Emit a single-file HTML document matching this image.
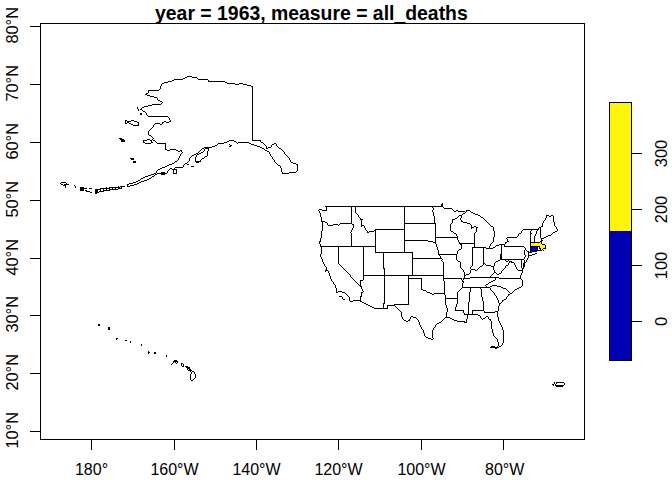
<!DOCTYPE html>
<html><head><meta charset="utf-8">
<style>
html,body{margin:0;padding:0;background:#fff;width:672px;height:480px;overflow:hidden}
svg{display:block}
text{font-family:"Liberation Sans",Arial,sans-serif;fill:#000}
.ax{font-size:16px}
.tt{font-size:19.8px;font-weight:bold}
.rl{font-size:16.4px}
</style></head><body>
<svg width="672" height="480" viewBox="0 0 672 480">
<rect x="0" y="0" width="672" height="480" fill="#fff"/>
<text class="tt" transform="translate(311.4 19.7) scale(0.98 1)" text-anchor="middle">year = 1963, measure = all_deaths</text>
<g shape-rendering="crispEdges"><path fill="#FFF50A" d="M540 242h1v1h-1zM531 243h10v1h-10zM531 244h11v1h-11zM531 245h14v1h-14zM540 246h5v1h-5zM540 247h5v1h-5zM541 248h2v1h-2zM541 249h1v1h-1z"/><path fill="#0000B3" d="M531 247h6v1h-6zM531 248h6v1h-6zM531 249h6v1h-6zM531 250h6v1h-6zM531 251h1v1h-1z"/><path fill="#000" d="M187 76h5v1h-5zM185 77h2v1h-2zM192 77h5v1h-5zM183 78h2v1h-2zM197 78h1v1h-1zM174 79h9v1h-9zM198 79h10v1h-10zM172 80h2v1h-2zM208 80h1v1h-1zM168 81h4v1h-4zM208 81h17v1h-17zM164 82h4v1h-4zM225 82h2v1h-2zM162 83h2v1h-2zM227 83h8v1h-8zM239 83h4v1h-4zM161 84h1v1h-1zM235 84h4v1h-4zM243 84h4v1h-4zM161 85h1v1h-1zM247 85h4v1h-4zM160 86h1v1h-1zM251 86h2v1h-2zM160 87h1v1h-1zM252 87h1v1h-1zM160 88h1v1h-1zM252 88h1v1h-1zM159 89h1v1h-1zM252 89h1v1h-1zM148 90h11v1h-11zM252 90h1v1h-1zM148 91h1v1h-1zM252 91h1v1h-1zM148 92h1v1h-1zM252 92h1v1h-1zM146 93h2v1h-2zM252 93h1v1h-1zM145 94h2v1h-2zM252 94h1v1h-1zM147 95h3v1h-3zM252 95h1v1h-1zM150 96h4v1h-4zM252 96h1v1h-1zM154 97h3v1h-3zM252 97h1v1h-1zM157 98h1v1h-1zM252 98h1v1h-1zM157 99h1v1h-1zM252 99h1v1h-1zM158 100h2v1h-2zM252 100h1v1h-1zM160 101h2v1h-2zM252 101h1v1h-1zM162 102h1v1h-1zM252 102h1v1h-1zM161 103h1v1h-1zM252 103h1v1h-1zM152 104h9v1h-9zM252 104h1v1h-1zM148 105h4v1h-4zM252 105h1v1h-1zM144 106h4v1h-4zM252 106h1v1h-1zM137 107h1v1h-1zM142 107h2v1h-2zM252 107h1v1h-1zM137 108h1v1h-1zM141 108h1v1h-1zM252 108h1v1h-1zM138 109h1v1h-1zM140 109h2v1h-2zM252 109h1v1h-1zM138 110h1v1h-1zM142 110h1v1h-1zM252 110h1v1h-1zM143 111h2v1h-2zM252 111h1v1h-1zM145 112h1v1h-1zM252 112h1v1h-1zM140 113h2v1h-2zM146 113h1v1h-1zM252 113h1v1h-1zM140 114h2v1h-2zM146 114h1v1h-1zM252 114h1v1h-1zM147 115h1v1h-1zM252 115h1v1h-1zM148 116h20v1h-20zM252 116h1v1h-1zM168 117h1v1h-1zM252 117h1v1h-1zM169 118h1v1h-1zM252 118h1v1h-1zM169 119h1v1h-1zM252 119h1v1h-1zM125 120h2v1h-2zM131 120h3v1h-3zM170 120h1v1h-1zM252 120h1v1h-1zM125 121h1v1h-1zM127 121h4v1h-4zM134 121h3v1h-3zM164 121h2v1h-2zM169 121h2v1h-2zM252 121h1v1h-1zM125 122h1v1h-1zM127 122h2v1h-2zM137 122h2v1h-2zM162 122h2v1h-2zM166 122h3v1h-3zM252 122h1v1h-1zM125 123h2v1h-2zM129 123h2v1h-2zM138 123h1v1h-1zM155 123h5v1h-5zM162 123h1v1h-1zM252 123h1v1h-1zM131 124h2v1h-2zM138 124h1v1h-1zM154 124h1v1h-1zM160 124h2v1h-2zM252 124h1v1h-1zM133 125h6v1h-6zM153 125h1v1h-1zM252 125h1v1h-1zM153 126h1v1h-1zM252 126h1v1h-1zM152 127h1v1h-1zM252 127h1v1h-1zM151 128h1v1h-1zM252 128h1v1h-1zM150 129h1v1h-1zM252 129h1v1h-1zM149 130h1v1h-1zM252 130h1v1h-1zM148 131h1v1h-1zM252 131h1v1h-1zM148 132h1v1h-1zM252 132h1v1h-1zM148 133h1v1h-1zM252 133h1v1h-1zM148 134h1v1h-1zM252 134h1v1h-1zM149 135h2v1h-2zM252 135h1v1h-1zM151 136h1v1h-1zM252 136h1v1h-1zM152 137h1v1h-1zM252 137h1v1h-1zM119 138h3v1h-3zM153 138h1v1h-1zM252 138h1v1h-1zM120 139h4v1h-4zM147 139h3v1h-3zM152 139h1v1h-1zM252 139h1v1h-1zM121 140h4v1h-4zM143 140h4v1h-4zM150 140h2v1h-2zM153 140h2v1h-2zM229 140h5v1h-5zM252 140h9v1h-9zM121 141h4v1h-4zM143 141h1v1h-1zM151 141h1v1h-1zM155 141h1v1h-1zM227 141h2v1h-2zM234 141h2v1h-2zM260 141h1v1h-1zM143 142h2v1h-2zM151 142h2v1h-2zM156 142h1v1h-1zM224 142h3v1h-3zM236 142h1v1h-1zM238 142h11v1h-11zM261 142h2v1h-2zM145 143h6v1h-6zM157 143h9v1h-9zM218 143h6v1h-6zM237 143h1v1h-1zM249 143h2v1h-2zM263 143h1v1h-1zM274 143h2v1h-2zM165 144h1v1h-1zM217 144h1v1h-1zM229 144h1v1h-1zM251 144h3v1h-3zM264 144h1v1h-1zM272 144h2v1h-2zM276 144h1v1h-1zM165 145h1v1h-1zM215 145h2v1h-2zM230 145h2v1h-2zM254 145h3v1h-3zM265 145h1v1h-1zM271 145h1v1h-1zM276 145h1v1h-1zM165 146h1v1h-1zM212 146h3v1h-3zM229 146h2v1h-2zM257 146h3v1h-3zM266 146h1v1h-1zM271 146h1v1h-1zM277 146h1v1h-1zM165 147h1v1h-1zM204 147h8v1h-8zM260 147h2v1h-2zM266 147h1v1h-1zM268 147h3v1h-3zM278 147h1v1h-1zM165 148h1v1h-1zM202 148h2v1h-2zM205 148h4v1h-4zM262 148h2v1h-2zM266 148h2v1h-2zM279 148h2v1h-2zM165 149h2v1h-2zM170 149h6v1h-6zM201 149h1v1h-1zM204 149h1v1h-1zM208 149h1v1h-1zM264 149h1v1h-1zM281 149h1v1h-1zM167 150h3v1h-3zM176 150h2v1h-2zM180 150h2v1h-2zM200 150h1v1h-1zM204 150h1v1h-1zM208 150h1v1h-1zM265 150h2v1h-2zM282 150h1v1h-1zM178 151h2v1h-2zM181 151h1v1h-1zM199 151h1v1h-1zM203 151h1v1h-1zM207 151h1v1h-1zM267 151h2v1h-2zM283 151h1v1h-1zM182 152h1v1h-1zM198 152h1v1h-1zM201 152h2v1h-2zM207 152h1v1h-1zM269 152h1v1h-1zM284 152h1v1h-1zM181 153h1v1h-1zM196 153h2v1h-2zM199 153h2v1h-2zM207 153h1v1h-1zM269 153h1v1h-1zM284 153h1v1h-1zM180 154h1v1h-1zM194 154h2v1h-2zM197 154h2v1h-2zM207 154h1v1h-1zM270 154h1v1h-1zM285 154h1v1h-1zM180 155h1v1h-1zM192 155h2v1h-2zM196 155h1v1h-1zM207 155h1v1h-1zM270 155h1v1h-1zM286 155h1v1h-1zM179 156h1v1h-1zM191 156h1v1h-1zM196 156h1v1h-1zM205 156h2v1h-2zM271 156h1v1h-1zM287 156h1v1h-1zM179 157h1v1h-1zM190 157h1v1h-1zM195 157h1v1h-1zM204 157h1v1h-1zM272 157h1v1h-1zM288 157h1v1h-1zM130 158h4v1h-4zM178 158h1v1h-1zM189 158h1v1h-1zM195 158h1v1h-1zM202 158h2v1h-2zM272 158h1v1h-1zM289 158h1v1h-1zM131 159h3v1h-3zM178 159h1v1h-1zM189 159h1v1h-1zM195 159h1v1h-1zM201 159h1v1h-1zM273 159h1v1h-1zM289 159h1v1h-1zM177 160h1v1h-1zM189 160h1v1h-1zM195 160h1v1h-1zM200 160h1v1h-1zM274 160h1v1h-1zM290 160h1v1h-1zM133 161h3v1h-3zM175 161h2v1h-2zM188 161h1v1h-1zM195 161h6v1h-6zM274 161h1v1h-1zM290 161h1v1h-1zM133 162h3v1h-3zM174 162h1v1h-1zM187 162h1v1h-1zM196 162h3v1h-3zM275 162h1v1h-1zM291 162h2v1h-2zM172 163h2v1h-2zM185 163h2v1h-2zM276 163h1v1h-1zM293 163h3v1h-3zM169 164h3v1h-3zM184 164h1v1h-1zM187 164h2v1h-2zM277 164h1v1h-1zM296 164h2v1h-2zM167 165h2v1h-2zM183 165h1v1h-1zM278 165h2v1h-2zM297 165h1v1h-1zM165 166h2v1h-2zM183 166h1v1h-1zM191 166h3v1h-3zM280 166h1v1h-1zM297 166h1v1h-1zM162 167h3v1h-3zM175 167h8v1h-8zM280 167h1v1h-1zM297 167h1v1h-1zM160 168h2v1h-2zM170 168h2v1h-2zM174 168h1v1h-1zM281 168h1v1h-1zM297 168h1v1h-1zM158 169h2v1h-2zM169 169h1v1h-1zM172 169h5v1h-5zM281 169h1v1h-1zM297 169h1v1h-1zM157 170h1v1h-1zM168 170h1v1h-1zM173 170h1v1h-1zM176 170h1v1h-1zM281 170h1v1h-1zM297 170h1v1h-1zM156 171h1v1h-1zM167 171h1v1h-1zM173 171h1v1h-1zM176 171h1v1h-1zM281 171h1v1h-1zM296 171h1v1h-1zM156 172h1v1h-1zM161 172h4v1h-4zM167 172h1v1h-1zM173 172h1v1h-1zM176 172h1v1h-1zM282 172h1v1h-1zM289 172h7v1h-7zM154 173h2v1h-2zM157 173h10v1h-10zM173 173h4v1h-4zM282 173h7v1h-7zM151 174h3v1h-3zM155 174h2v1h-2zM161 174h4v1h-4zM148 175h3v1h-3zM154 175h1v1h-1zM145 176h3v1h-3zM152 176h2v1h-2zM143 177h2v1h-2zM151 177h1v1h-1zM141 178h2v1h-2zM149 178h2v1h-2zM140 179h1v1h-1zM147 179h2v1h-2zM138 180h2v1h-2zM144 180h3v1h-3zM136 181h2v1h-2zM141 181h3v1h-3zM61 182h5v1h-5zM133 182h3v1h-3zM139 182h2v1h-2zM60 183h1v1h-1zM66 183h1v1h-1zM129 183h4v1h-4zM137 183h2v1h-2zM61 184h2v1h-2zM64 184h5v1h-5zM127 184h2v1h-2zM134 184h3v1h-3zM63 185h3v1h-3zM74 185h1v1h-1zM127 185h1v1h-1zM130 185h4v1h-4zM65 186h1v1h-1zM75 186h1v1h-1zM118 186h1v1h-1zM120 186h5v1h-5zM127 186h3v1h-3zM65 187h1v1h-1zM75 187h1v1h-1zM80 187h4v1h-4zM106 187h1v1h-1zM109 187h11v1h-11zM121 187h1v1h-1zM80 188h7v1h-7zM89 188h3v1h-3zM100 188h10v1h-10zM112 188h1v1h-1zM115 188h1v1h-1zM118 188h4v1h-4zM80 189h4v1h-4zM95 189h6v1h-6zM103 189h1v1h-1zM106 189h1v1h-1zM109 189h9v1h-9zM80 190h4v1h-4zM85 190h2v1h-2zM95 190h3v1h-3zM100 190h1v1h-1zM103 190h7v1h-7zM86 191h4v1h-4zM95 191h3v1h-3zM99 191h5v1h-5zM90 192h2v1h-2zM95 192h4v1h-4zM95 193h2v1h-2zM442 203h1v1h-1zM441 204h2v1h-2zM441 205h2v1h-2zM325 206h118v1h-118zM326 207h1v1h-1zM351 207h1v1h-1zM355 207h1v1h-1zM404 207h1v1h-1zM432 207h1v1h-1zM443 207h1v1h-1zM326 208h1v1h-1zM351 208h1v1h-1zM355 208h1v1h-1zM404 208h1v1h-1zM433 208h1v1h-1zM444 208h8v1h-8zM319 209h3v1h-3zM326 209h1v1h-1zM351 209h1v1h-1zM355 209h1v1h-1zM404 209h1v1h-1zM433 209h1v1h-1zM452 209h1v1h-1zM318 210h1v1h-1zM322 210h5v1h-5zM351 210h1v1h-1zM355 210h1v1h-1zM404 210h1v1h-1zM432 210h1v1h-1zM453 210h1v1h-1zM456 210h2v1h-2zM466 210h4v1h-4zM319 211h1v1h-1zM351 211h1v1h-1zM355 211h1v1h-1zM404 211h1v1h-1zM432 211h1v1h-1zM454 211h2v1h-2zM458 211h7v1h-7zM466 211h1v1h-1zM470 211h1v1h-1zM319 212h1v1h-1zM351 212h1v1h-1zM355 212h1v1h-1zM404 212h1v1h-1zM433 212h1v1h-1zM465 212h1v1h-1zM471 212h2v1h-2zM320 213h1v1h-1zM351 213h1v1h-1zM356 213h1v1h-1zM404 213h1v1h-1zM433 213h1v1h-1zM463 213h2v1h-2zM473 213h2v1h-2zM320 214h1v1h-1zM351 214h1v1h-1zM357 214h1v1h-1zM404 214h1v1h-1zM433 214h1v1h-1zM462 214h1v1h-1zM475 214h3v1h-3zM320 215h1v1h-1zM351 215h1v1h-1zM358 215h1v1h-1zM404 215h1v1h-1zM433 215h1v1h-1zM459 215h3v1h-3zM478 215h2v1h-2zM546 215h3v1h-3zM551 215h2v1h-2zM320 216h1v1h-1zM351 216h1v1h-1zM358 216h1v1h-1zM404 216h1v1h-1zM434 216h1v1h-1zM458 216h1v1h-1zM461 216h1v1h-1zM480 216h1v1h-1zM546 216h1v1h-1zM549 216h2v1h-2zM553 216h1v1h-1zM321 217h1v1h-1zM351 217h1v1h-1zM359 217h1v1h-1zM404 217h1v1h-1zM434 217h1v1h-1zM457 217h1v1h-1zM461 217h1v1h-1zM481 217h2v1h-2zM546 217h1v1h-1zM553 217h1v1h-1zM321 218h1v1h-1zM351 218h1v1h-1zM360 218h1v1h-1zM404 218h1v1h-1zM434 218h1v1h-1zM455 218h2v1h-2zM460 218h1v1h-1zM483 218h1v1h-1zM545 218h1v1h-1zM553 218h1v1h-1zM321 219h1v1h-1zM351 219h1v1h-1zM360 219h3v1h-3zM404 219h1v1h-1zM434 219h1v1h-1zM452 219h3v1h-3zM460 219h1v1h-1zM484 219h1v1h-1zM545 219h1v1h-1zM553 219h1v1h-1zM321 220h1v1h-1zM351 220h1v1h-1zM361 220h1v1h-1zM404 220h1v1h-1zM434 220h1v1h-1zM452 220h1v1h-1zM461 220h1v1h-1zM485 220h1v1h-1zM544 220h1v1h-1zM553 220h1v1h-1zM321 221h4v1h-4zM351 221h1v1h-1zM361 221h1v1h-1zM404 221h1v1h-1zM434 221h1v1h-1zM452 221h1v1h-1zM461 221h2v1h-2zM486 221h1v1h-1zM543 221h1v1h-1zM553 221h1v1h-1zM322 222h1v1h-1zM325 222h2v1h-2zM351 222h1v1h-1zM361 222h1v1h-1zM404 222h1v1h-1zM434 222h1v1h-1zM452 222h1v1h-1zM463 222h4v1h-4zM487 222h1v1h-1zM543 222h1v1h-1zM554 222h1v1h-1zM322 223h1v1h-1zM327 223h1v1h-1zM340 223h12v1h-12zM361 223h1v1h-1zM404 223h32v1h-32zM451 223h1v1h-1zM467 223h3v1h-3zM488 223h1v1h-1zM542 223h1v1h-1zM554 223h1v1h-1zM322 224h1v1h-1zM327 224h1v1h-1zM333 224h5v1h-5zM339 224h1v1h-1zM352 224h2v1h-2zM361 224h1v1h-1zM404 224h1v1h-1zM435 224h1v1h-1zM450 224h1v1h-1zM470 224h1v1h-1zM489 224h1v1h-1zM542 224h1v1h-1zM554 224h1v1h-1zM322 225h1v1h-1zM328 225h5v1h-5zM338 225h1v1h-1zM353 225h1v1h-1zM361 225h3v1h-3zM404 225h1v1h-1zM435 225h1v1h-1zM450 225h1v1h-1zM471 225h1v1h-1zM490 225h1v1h-1zM542 225h1v1h-1zM554 225h1v1h-1zM322 226h1v1h-1zM353 226h1v1h-1zM361 226h1v1h-1zM364 226h1v1h-1zM404 226h1v1h-1zM435 226h1v1h-1zM450 226h1v1h-1zM471 226h1v1h-1zM474 226h2v1h-2zM491 226h2v1h-2zM541 226h2v1h-2zM555 226h1v1h-1zM322 227h1v1h-1zM353 227h1v1h-1zM364 227h1v1h-1zM404 227h1v1h-1zM435 227h1v1h-1zM450 227h1v1h-1zM471 227h3v1h-3zM476 227h2v1h-2zM493 227h1v1h-1zM539 227h2v1h-2zM556 227h1v1h-1zM322 228h1v1h-1zM352 228h1v1h-1zM365 228h1v1h-1zM404 228h1v1h-1zM435 228h1v1h-1zM450 228h1v1h-1zM471 228h1v1h-1zM476 228h1v1h-1zM493 228h1v1h-1zM538 228h1v1h-1zM540 228h1v1h-1zM556 228h1v1h-1zM322 229h1v1h-1zM352 229h1v1h-1zM365 229h1v1h-1zM375 229h30v1h-30zM435 229h1v1h-1zM450 229h1v1h-1zM476 229h1v1h-1zM493 229h1v1h-1zM523 229h16v1h-16zM540 229h1v1h-1zM557 229h1v1h-1zM322 230h1v1h-1zM351 230h1v1h-1zM366 230h1v1h-1zM374 230h2v1h-2zM404 230h1v1h-1zM435 230h1v1h-1zM450 230h1v1h-1zM476 230h1v1h-1zM493 230h1v1h-1zM522 230h1v1h-1zM531 230h1v1h-1zM537 230h1v1h-1zM540 230h1v1h-1zM557 230h1v1h-1zM321 231h1v1h-1zM351 231h1v1h-1zM367 231h1v1h-1zM369 231h5v1h-5zM375 231h1v1h-1zM404 231h1v1h-1zM435 231h1v1h-1zM451 231h2v1h-2zM476 231h1v1h-1zM494 231h1v1h-1zM521 231h1v1h-1zM530 231h1v1h-1zM536 231h1v1h-1zM540 231h1v1h-1zM555 231h2v1h-2zM321 232h1v1h-1zM350 232h1v1h-1zM367 232h2v1h-2zM375 232h1v1h-1zM404 232h1v1h-1zM435 232h1v1h-1zM453 232h1v1h-1zM475 232h1v1h-1zM494 232h1v1h-1zM521 232h1v1h-1zM530 232h1v1h-1zM536 232h1v1h-1zM540 232h1v1h-1zM553 232h2v1h-2zM321 233h1v1h-1zM351 233h1v1h-1zM375 233h1v1h-1zM404 233h1v1h-1zM435 233h1v1h-1zM454 233h2v1h-2zM474 233h1v1h-1zM494 233h1v1h-1zM519 233h2v1h-2zM530 233h2v1h-2zM536 233h1v1h-1zM540 233h1v1h-1zM552 233h1v1h-1zM321 234h1v1h-1zM351 234h1v1h-1zM375 234h1v1h-1zM404 234h1v1h-1zM435 234h1v1h-1zM456 234h1v1h-1zM474 234h1v1h-1zM494 234h1v1h-1zM518 234h1v1h-1zM530 234h1v1h-1zM535 234h1v1h-1zM540 234h1v1h-1zM551 234h1v1h-1zM321 235h1v1h-1zM351 235h1v1h-1zM375 235h1v1h-1zM404 235h1v1h-1zM435 235h1v1h-1zM456 235h1v1h-1zM474 235h1v1h-1zM494 235h1v1h-1zM518 235h1v1h-1zM530 235h1v1h-1zM535 235h1v1h-1zM540 235h1v1h-1zM548 235h3v1h-3zM321 236h1v1h-1zM351 236h1v1h-1zM375 236h1v1h-1zM404 236h1v1h-1zM435 236h1v1h-1zM457 236h1v1h-1zM474 236h1v1h-1zM494 236h1v1h-1zM517 236h1v1h-1zM530 236h1v1h-1zM534 236h1v1h-1zM540 236h1v1h-1zM546 236h2v1h-2zM321 237h1v1h-1zM351 237h1v1h-1zM375 237h1v1h-1zM404 237h1v1h-1zM435 237h23v1h-23zM474 237h1v1h-1zM493 237h1v1h-1zM507 237h10v1h-10zM530 237h1v1h-1zM534 237h1v1h-1zM540 237h1v1h-1zM544 237h2v1h-2zM320 238h1v1h-1zM351 238h1v1h-1zM375 238h1v1h-1zM404 238h1v1h-1zM435 238h1v1h-1zM457 238h1v1h-1zM474 238h1v1h-1zM493 238h1v1h-1zM506 238h1v1h-1zM530 238h1v1h-1zM534 238h1v1h-1zM541 238h3v1h-3zM320 239h1v1h-1zM351 239h1v1h-1zM375 239h1v1h-1zM404 239h1v1h-1zM435 239h1v1h-1zM457 239h1v1h-1zM474 239h1v1h-1zM493 239h1v1h-1zM507 239h1v1h-1zM530 239h1v1h-1zM534 239h1v1h-1zM541 239h1v1h-1zM320 240h1v1h-1zM351 240h1v1h-1zM375 240h1v1h-1zM404 240h24v1h-24zM435 240h1v1h-1zM458 240h1v1h-1zM474 240h1v1h-1zM493 240h1v1h-1zM507 240h1v1h-1zM530 240h1v1h-1zM534 240h1v1h-1zM541 240h2v1h-2zM319 241h2v1h-2zM351 241h1v1h-1zM375 241h1v1h-1zM404 241h1v1h-1zM428 241h5v1h-5zM435 241h1v1h-1zM458 241h1v1h-1zM474 241h1v1h-1zM493 241h1v1h-1zM507 241h2v1h-2zM530 241h1v1h-1zM534 241h1v1h-1zM540 241h2v1h-2zM319 242h1v1h-1zM351 242h1v1h-1zM375 242h1v1h-1zM404 242h1v1h-1zM433 242h3v1h-3zM459 242h1v1h-1zM474 242h1v1h-1zM492 242h1v1h-1zM505 242h2v1h-2zM530 242h10v1h-10zM541 242h1v1h-1zM319 243h1v1h-1zM351 243h1v1h-1zM375 243h1v1h-1zM404 243h1v1h-1zM435 243h1v1h-1zM459 243h16v1h-16zM491 243h1v1h-1zM505 243h1v1h-1zM530 243h1v1h-1zM541 243h1v1h-1zM320 244h1v1h-1zM351 244h1v1h-1zM375 244h1v1h-1zM404 244h1v1h-1zM436 244h1v1h-1zM460 244h2v1h-2zM474 244h1v1h-1zM490 244h1v1h-1zM499 244h6v1h-6zM530 244h1v1h-1zM542 244h3v1h-3zM320 245h1v1h-1zM351 245h1v1h-1zM375 245h1v1h-1zM404 245h1v1h-1zM436 245h1v1h-1zM461 245h1v1h-1zM474 245h1v1h-1zM490 245h1v1h-1zM496 245h3v1h-3zM501 245h1v1h-1zM504 245h1v1h-1zM530 245h1v1h-1zM545 245h1v1h-1zM320 246h56v1h-56zM404 246h1v1h-1zM436 246h1v1h-1zM461 246h1v1h-1zM474 246h1v1h-1zM489 246h1v1h-1zM495 246h1v1h-1zM501 246h1v1h-1zM504 246h20v1h-20zM530 246h10v1h-10zM545 246h1v1h-1zM321 247h1v1h-1zM338 247h1v1h-1zM363 247h1v1h-1zM375 247h1v1h-1zM404 247h1v1h-1zM437 247h1v1h-1zM461 247h1v1h-1zM472 247h14v1h-14zM489 247h1v1h-1zM493 247h2v1h-2zM501 247h1v1h-1zM524 247h1v1h-1zM530 247h1v1h-1zM537 247h1v1h-1zM539 247h1v1h-1zM545 247h1v1h-1zM321 248h1v1h-1zM338 248h1v1h-1zM363 248h1v1h-1zM375 248h1v1h-1zM404 248h1v1h-1zM437 248h1v1h-1zM461 248h1v1h-1zM472 248h1v1h-1zM483 248h1v1h-1zM486 248h7v1h-7zM501 248h1v1h-1zM525 248h1v1h-1zM530 248h1v1h-1zM537 248h1v1h-1zM539 248h2v1h-2zM543 248h3v1h-3zM321 249h1v1h-1zM338 249h1v1h-1zM363 249h1v1h-1zM375 249h1v1h-1zM404 249h1v1h-1zM437 249h1v1h-1zM459 249h2v1h-2zM472 249h1v1h-1zM483 249h1v1h-1zM501 249h1v1h-1zM525 249h1v1h-1zM530 249h1v1h-1zM537 249h1v1h-1zM540 249h1v1h-1zM542 249h1v1h-1zM321 250h1v1h-1zM338 250h1v1h-1zM363 250h1v1h-1zM375 250h1v1h-1zM404 250h1v1h-1zM438 250h1v1h-1zM458 250h1v1h-1zM472 250h1v1h-1zM483 250h1v1h-1zM501 250h1v1h-1zM524 250h1v1h-1zM526 250h1v1h-1zM530 250h1v1h-1zM537 250h5v1h-5zM543 250h1v1h-1zM321 251h1v1h-1zM338 251h1v1h-1zM363 251h1v1h-1zM375 251h1v1h-1zM404 251h1v1h-1zM438 251h1v1h-1zM457 251h1v1h-1zM472 251h1v1h-1zM483 251h1v1h-1zM501 251h1v1h-1zM524 251h1v1h-1zM527 251h2v1h-2zM530 251h1v1h-1zM532 251h5v1h-5zM321 252h1v1h-1zM338 252h1v1h-1zM363 252h1v1h-1zM375 252h38v1h-38zM438 252h1v1h-1zM457 252h1v1h-1zM472 252h1v1h-1zM483 252h1v1h-1zM501 252h1v1h-1zM524 252h1v1h-1zM528 252h4v1h-4zM321 253h1v1h-1zM338 253h1v1h-1zM363 253h1v1h-1zM383 253h1v1h-1zM412 253h1v1h-1zM438 253h1v1h-1zM457 253h1v1h-1zM472 253h1v1h-1zM483 253h1v1h-1zM501 253h1v1h-1zM524 253h1v1h-1zM528 253h1v1h-1zM535 253h2v1h-2zM320 254h1v1h-1zM338 254h1v1h-1zM363 254h1v1h-1zM383 254h1v1h-1zM412 254h1v1h-1zM438 254h19v1h-19zM472 254h1v1h-1zM483 254h1v1h-1zM500 254h2v1h-2zM524 254h1v1h-1zM528 254h1v1h-1zM532 254h3v1h-3zM320 255h1v1h-1zM338 255h1v1h-1zM363 255h1v1h-1zM383 255h1v1h-1zM412 255h1v1h-1zM439 255h1v1h-1zM456 255h1v1h-1zM472 255h1v1h-1zM483 255h1v1h-1zM500 255h2v1h-2zM525 255h1v1h-1zM528 255h4v1h-4zM320 256h1v1h-1zM338 256h1v1h-1zM363 256h1v1h-1zM383 256h1v1h-1zM412 256h1v1h-1zM440 256h1v1h-1zM456 256h1v1h-1zM472 256h1v1h-1zM483 256h1v1h-1zM500 256h2v1h-2zM525 256h1v1h-1zM528 256h1v1h-1zM321 257h1v1h-1zM338 257h1v1h-1zM363 257h1v1h-1zM383 257h1v1h-1zM412 257h1v1h-1zM440 257h1v1h-1zM456 257h1v1h-1zM472 257h1v1h-1zM483 257h1v1h-1zM500 257h2v1h-2zM524 257h1v1h-1zM528 257h1v1h-1zM321 258h1v1h-1zM338 258h1v1h-1zM363 258h1v1h-1zM383 258h1v1h-1zM412 258h30v1h-30zM456 258h1v1h-1zM472 258h1v1h-1zM483 258h1v1h-1zM500 258h2v1h-2zM524 258h1v1h-1zM527 258h1v1h-1zM322 259h1v1h-1zM338 259h1v1h-1zM363 259h1v1h-1zM383 259h1v1h-1zM412 259h1v1h-1zM442 259h1v1h-1zM456 259h1v1h-1zM472 259h1v1h-1zM483 259h1v1h-1zM500 259h24v1h-24zM527 259h1v1h-1zM322 260h1v1h-1zM338 260h1v1h-1zM363 260h1v1h-1zM383 260h1v1h-1zM412 260h1v1h-1zM441 260h1v1h-1zM457 260h1v1h-1zM472 260h1v1h-1zM483 260h1v1h-1zM498 260h2v1h-2zM505 260h1v1h-1zM508 260h1v1h-1zM521 260h1v1h-1zM524 260h1v1h-1zM526 260h1v1h-1zM322 261h1v1h-1zM338 261h1v1h-1zM363 261h1v1h-1zM383 261h1v1h-1zM412 261h1v1h-1zM442 261h1v1h-1zM458 261h2v1h-2zM472 261h1v1h-1zM483 261h1v1h-1zM496 261h2v1h-2zM506 261h2v1h-2zM509 261h3v1h-3zM521 261h1v1h-1zM524 261h1v1h-1zM526 261h1v1h-1zM323 262h1v1h-1zM338 262h1v1h-1zM363 262h1v1h-1zM383 262h1v1h-1zM412 262h1v1h-1zM443 262h1v1h-1zM460 262h1v1h-1zM472 262h1v1h-1zM483 262h1v1h-1zM495 262h1v1h-1zM509 262h1v1h-1zM511 262h3v1h-3zM521 262h1v1h-1zM524 262h2v1h-2zM323 263h1v1h-1zM338 263h1v1h-1zM363 263h1v1h-1zM383 263h1v1h-1zM412 263h1v1h-1zM443 263h1v1h-1zM460 263h1v1h-1zM472 263h1v1h-1zM483 263h2v1h-2zM494 263h1v1h-1zM508 263h1v1h-1zM514 263h1v1h-1zM521 263h1v1h-1zM523 263h2v1h-2zM324 264h1v1h-1zM339 264h1v1h-1zM363 264h1v1h-1zM383 264h1v1h-1zM412 264h1v1h-1zM443 264h1v1h-1zM460 264h1v1h-1zM472 264h1v1h-1zM483 264h1v1h-1zM485 264h1v1h-1zM494 264h1v1h-1zM508 264h1v1h-1zM514 264h1v1h-1zM521 264h1v1h-1zM523 264h2v1h-2zM324 265h1v1h-1zM340 265h1v1h-1zM363 265h1v1h-1zM383 265h1v1h-1zM412 265h1v1h-1zM443 265h1v1h-1zM460 265h1v1h-1zM472 265h1v1h-1zM482 265h1v1h-1zM486 265h5v1h-5zM494 265h1v1h-1zM506 265h2v1h-2zM515 265h1v1h-1zM521 265h1v1h-1zM523 265h2v1h-2zM325 266h1v1h-1zM341 266h1v1h-1zM363 266h1v1h-1zM383 266h1v1h-1zM412 266h1v1h-1zM443 266h1v1h-1zM460 266h1v1h-1zM471 266h1v1h-1zM480 266h2v1h-2zM491 266h3v1h-3zM505 266h1v1h-1zM515 266h1v1h-1zM521 266h1v1h-1zM523 266h2v1h-2zM326 267h1v1h-1zM342 267h1v1h-1zM363 267h1v1h-1zM383 267h1v1h-1zM412 267h1v1h-1zM443 267h1v1h-1zM460 267h1v1h-1zM470 267h1v1h-1zM479 267h1v1h-1zM493 267h1v1h-1zM505 267h1v1h-1zM516 267h1v1h-1zM521 267h1v1h-1zM523 267h1v1h-1zM326 268h1v1h-1zM343 268h1v1h-1zM363 268h1v1h-1zM383 268h2v1h-2zM412 268h1v1h-1zM443 268h1v1h-1zM461 268h1v1h-1zM470 268h1v1h-1zM478 268h1v1h-1zM493 268h1v1h-1zM504 268h1v1h-1zM516 268h1v1h-1zM522 268h2v1h-2zM326 269h1v1h-1zM344 269h1v1h-1zM363 269h1v1h-1zM384 269h1v1h-1zM412 269h1v1h-1zM443 269h1v1h-1zM462 269h1v1h-1zM471 269h4v1h-4zM477 269h1v1h-1zM493 269h1v1h-1zM503 269h1v1h-1zM517 269h1v1h-1zM522 269h1v1h-1zM325 270h3v1h-3zM345 270h1v1h-1zM363 270h1v1h-1zM384 270h1v1h-1zM412 270h1v1h-1zM443 270h1v1h-1zM463 270h1v1h-1zM470 270h1v1h-1zM475 270h2v1h-2zM494 270h1v1h-1zM502 270h1v1h-1zM518 270h5v1h-5zM325 271h1v1h-1zM328 271h1v1h-1zM346 271h1v1h-1zM363 271h1v1h-1zM384 271h1v1h-1zM412 271h1v1h-1zM443 271h1v1h-1zM463 271h1v1h-1zM470 271h1v1h-1zM494 271h1v1h-1zM501 271h1v1h-1zM522 271h1v1h-1zM328 272h1v1h-1zM347 272h1v1h-1zM363 272h1v1h-1zM384 272h1v1h-1zM412 272h1v1h-1zM443 272h1v1h-1zM464 272h1v1h-1zM470 272h1v1h-1zM494 272h2v1h-2zM501 272h1v1h-1zM522 272h1v1h-1zM329 273h1v1h-1zM348 273h1v1h-1zM363 273h1v1h-1zM384 273h1v1h-1zM412 273h1v1h-1zM443 273h1v1h-1zM464 273h1v1h-1zM469 273h1v1h-1zM493 273h1v1h-1zM496 273h1v1h-1zM499 273h2v1h-2zM521 273h1v1h-1zM329 274h1v1h-1zM349 274h1v1h-1zM363 274h1v1h-1zM384 274h1v1h-1zM412 274h1v1h-1zM443 274h1v1h-1zM464 274h1v1h-1zM466 274h3v1h-3zM492 274h1v1h-1zM497 274h2v1h-2zM521 274h1v1h-1zM329 275h1v1h-1zM350 275h1v1h-1zM363 275h81v1h-81zM464 275h2v1h-2zM491 275h1v1h-1zM520 275h1v1h-1zM330 276h1v1h-1zM350 276h1v1h-1zM363 276h1v1h-1zM384 276h1v1h-1zM408 276h1v1h-1zM443 276h1v1h-1zM464 276h1v1h-1zM490 276h1v1h-1zM520 276h1v1h-1zM330 277h1v1h-1zM351 277h1v1h-1zM363 277h1v1h-1zM384 277h1v1h-1zM408 277h1v1h-1zM443 277h1v1h-1zM464 277h1v1h-1zM470 277h29v1h-29zM520 277h1v1h-1zM330 278h1v1h-1zM352 278h1v1h-1zM363 278h1v1h-1zM384 278h1v1h-1zM408 278h14v1h-14zM443 278h19v1h-19zM463 278h7v1h-7zM495 278h1v1h-1zM499 278h22v1h-22zM331 279h1v1h-1zM353 279h1v1h-1zM363 279h1v1h-1zM384 279h1v1h-1zM408 279h1v1h-1zM421 279h1v1h-1zM443 279h1v1h-1zM461 279h1v1h-1zM463 279h1v1h-1zM495 279h1v1h-1zM521 279h1v1h-1zM331 280h1v1h-1zM354 280h1v1h-1zM360 280h3v1h-3zM384 280h1v1h-1zM408 280h1v1h-1zM421 280h1v1h-1zM443 280h1v1h-1zM462 280h1v1h-1zM493 280h2v1h-2zM522 280h1v1h-1zM332 281h1v1h-1zM355 281h1v1h-1zM360 281h1v1h-1zM384 281h1v1h-1zM408 281h1v1h-1zM421 281h1v1h-1zM444 281h1v1h-1zM462 281h2v1h-2zM491 281h2v1h-2zM522 281h1v1h-1zM333 282h1v1h-1zM356 282h1v1h-1zM360 282h1v1h-1zM384 282h1v1h-1zM408 282h1v1h-1zM421 282h1v1h-1zM444 282h1v1h-1zM463 282h1v1h-1zM489 282h2v1h-2zM522 282h1v1h-1zM333 283h1v1h-1zM357 283h1v1h-1zM360 283h1v1h-1zM384 283h1v1h-1zM408 283h1v1h-1zM421 283h1v1h-1zM444 283h1v1h-1zM462 283h1v1h-1zM488 283h1v1h-1zM522 283h1v1h-1zM334 284h1v1h-1zM358 284h1v1h-1zM360 284h1v1h-1zM384 284h1v1h-1zM408 284h1v1h-1zM421 284h1v1h-1zM444 284h1v1h-1zM462 284h1v1h-1zM486 284h2v1h-2zM522 284h1v1h-1zM335 285h1v1h-1zM359 285h2v1h-2zM384 285h1v1h-1zM408 285h1v1h-1zM421 285h1v1h-1zM444 285h1v1h-1zM462 285h1v1h-1zM485 285h1v1h-1zM492 285h5v1h-5zM522 285h1v1h-1zM335 286h1v1h-1zM360 286h2v1h-2zM384 286h1v1h-1zM408 286h1v1h-1zM421 286h1v1h-1zM444 286h1v1h-1zM462 286h1v1h-1zM486 286h1v1h-1zM490 286h2v1h-2zM497 286h4v1h-4zM521 286h1v1h-1zM335 287h1v1h-1zM361 287h1v1h-1zM384 287h1v1h-1zM408 287h1v1h-1zM421 287h1v1h-1zM444 287h1v1h-1zM462 287h28v1h-28zM501 287h2v1h-2zM519 287h2v1h-2zM336 288h1v1h-1zM361 288h1v1h-1zM384 288h1v1h-1zM408 288h1v1h-1zM421 288h1v1h-1zM444 288h1v1h-1zM461 288h1v1h-1zM470 288h1v1h-1zM480 288h1v1h-1zM490 288h1v1h-1zM503 288h3v1h-3zM517 288h2v1h-2zM336 289h1v1h-1zM362 289h1v1h-1zM384 289h1v1h-1zM408 289h1v1h-1zM421 289h2v1h-2zM444 289h1v1h-1zM460 289h1v1h-1zM470 289h1v1h-1zM481 289h1v1h-1zM490 289h1v1h-1zM506 289h1v1h-1zM515 289h2v1h-2zM336 290h1v1h-1zM362 290h1v1h-1zM384 290h1v1h-1zM408 290h1v1h-1zM423 290h3v1h-3zM444 290h1v1h-1zM459 290h1v1h-1zM470 290h1v1h-1zM481 290h1v1h-1zM491 290h1v1h-1zM507 290h1v1h-1zM514 290h1v1h-1zM336 291h1v1h-1zM338 291h4v1h-4zM363 291h1v1h-1zM384 291h1v1h-1zM408 291h1v1h-1zM426 291h1v1h-1zM444 291h1v1h-1zM458 291h1v1h-1zM470 291h1v1h-1zM481 291h1v1h-1zM492 291h1v1h-1zM508 291h1v1h-1zM513 291h1v1h-1zM336 292h2v1h-2zM342 292h3v1h-3zM361 292h2v1h-2zM384 292h1v1h-1zM408 292h1v1h-1zM427 292h3v1h-3zM444 292h1v1h-1zM457 292h1v1h-1zM469 292h1v1h-1zM481 292h1v1h-1zM493 292h1v1h-1zM509 292h1v1h-1zM512 292h1v1h-1zM345 293h1v1h-1zM361 293h1v1h-1zM384 293h1v1h-1zM408 293h1v1h-1zM430 293h2v1h-2zM434 293h11v1h-11zM457 293h1v1h-1zM469 293h1v1h-1zM481 293h1v1h-1zM494 293h1v1h-1zM510 293h2v1h-2zM346 294h1v1h-1zM361 294h1v1h-1zM384 294h1v1h-1zM408 294h1v1h-1zM432 294h2v1h-2zM444 294h1v1h-1zM457 294h1v1h-1zM469 294h1v1h-1zM481 294h1v1h-1zM494 294h1v1h-1zM508 294h2v1h-2zM347 295h1v1h-1zM361 295h1v1h-1zM384 295h1v1h-1zM408 295h1v1h-1zM445 295h1v1h-1zM457 295h1v1h-1zM469 295h1v1h-1zM481 295h1v1h-1zM495 295h1v1h-1zM508 295h1v1h-1zM339 296h3v1h-3zM348 296h1v1h-1zM360 296h2v1h-2zM384 296h1v1h-1zM408 296h1v1h-1zM445 296h1v1h-1zM457 296h1v1h-1zM469 296h1v1h-1zM481 296h1v1h-1zM496 296h1v1h-1zM507 296h1v1h-1zM342 297h1v1h-1zM349 297h1v1h-1zM360 297h1v1h-1zM384 297h1v1h-1zM408 297h1v1h-1zM445 297h1v1h-1zM457 297h1v1h-1zM469 297h1v1h-1zM482 297h1v1h-1zM496 297h1v1h-1zM506 297h1v1h-1zM342 298h1v1h-1zM349 298h1v1h-1zM360 298h1v1h-1zM384 298h1v1h-1zM408 298h1v1h-1zM445 298h13v1h-13zM469 298h1v1h-1zM482 298h1v1h-1zM497 298h1v1h-1zM506 298h1v1h-1zM343 299h2v1h-2zM349 299h1v1h-1zM360 299h1v1h-1zM384 299h1v1h-1zM408 299h1v1h-1zM445 299h1v1h-1zM457 299h1v1h-1zM469 299h1v1h-1zM482 299h1v1h-1zM497 299h1v1h-1zM504 299h2v1h-2zM349 300h1v1h-1zM353 300h8v1h-8zM384 300h1v1h-1zM408 300h1v1h-1zM445 300h1v1h-1zM457 300h1v1h-1zM469 300h1v1h-1zM482 300h1v1h-1zM498 300h1v1h-1zM502 300h2v1h-2zM350 301h3v1h-3zM360 301h2v1h-2zM384 301h1v1h-1zM408 301h1v1h-1zM445 301h1v1h-1zM457 301h1v1h-1zM469 301h1v1h-1zM483 301h1v1h-1zM498 301h1v1h-1zM502 301h1v1h-1zM362 302h2v1h-2zM384 302h1v1h-1zM408 302h1v1h-1zM445 302h1v1h-1zM457 302h1v1h-1zM468 302h1v1h-1zM483 302h1v1h-1zM498 302h1v1h-1zM501 302h1v1h-1zM364 303h2v1h-2zM383 303h2v1h-2zM408 303h1v1h-1zM445 303h1v1h-1zM457 303h1v1h-1zM468 303h1v1h-1zM483 303h1v1h-1zM499 303h2v1h-2zM366 304h2v1h-2zM383 304h1v1h-1zM394 304h15v1h-15zM445 304h1v1h-1zM456 304h1v1h-1zM468 304h1v1h-1zM483 304h1v1h-1zM499 304h1v1h-1zM368 305h2v1h-2zM383 305h1v1h-1zM387 305h8v1h-8zM446 305h1v1h-1zM456 305h1v1h-1zM468 305h1v1h-1zM483 305h1v1h-1zM499 305h1v1h-1zM370 306h2v1h-2zM383 306h1v1h-1zM387 306h1v1h-1zM395 306h1v1h-1zM446 306h1v1h-1zM456 306h1v1h-1zM468 306h1v1h-1zM483 306h1v1h-1zM498 306h1v1h-1zM372 307h2v1h-2zM383 307h1v1h-1zM387 307h1v1h-1zM396 307h1v1h-1zM446 307h1v1h-1zM455 307h1v1h-1zM468 307h1v1h-1zM483 307h1v1h-1zM498 307h1v1h-1zM374 308h14v1h-14zM397 308h1v1h-1zM447 308h1v1h-1zM455 308h1v1h-1zM468 308h1v1h-1zM483 308h1v1h-1zM498 308h1v1h-1zM398 309h1v1h-1zM447 309h1v1h-1zM455 309h1v1h-1zM468 309h1v1h-1zM483 309h1v1h-1zM498 309h1v1h-1zM399 310h1v1h-1zM447 310h1v1h-1zM455 310h9v1h-9zM468 310h1v1h-1zM472 310h12v1h-12zM498 310h1v1h-1zM400 311h1v1h-1zM447 311h1v1h-1zM463 311h1v1h-1zM468 311h1v1h-1zM472 311h1v1h-1zM484 311h1v1h-1zM495 311h3v1h-3zM401 312h1v1h-1zM446 312h1v1h-1zM463 312h1v1h-1zM468 312h1v1h-1zM472 312h1v1h-1zM484 312h11v1h-11zM497 312h1v1h-1zM401 313h1v1h-1zM446 313h1v1h-1zM464 313h1v1h-1zM468 313h1v1h-1zM472 313h1v1h-1zM497 313h1v1h-1zM401 314h1v1h-1zM446 314h1v1h-1zM464 314h14v1h-14zM497 314h1v1h-1zM401 315h1v1h-1zM446 315h1v1h-1zM467 315h1v1h-1zM478 315h2v1h-2zM497 315h1v1h-1zM401 316h1v1h-1zM411 316h2v1h-2zM446 316h1v1h-1zM467 316h1v1h-1zM480 316h1v1h-1zM486 316h2v1h-2zM497 316h1v1h-1zM402 317h1v1h-1zM410 317h1v1h-1zM413 317h3v1h-3zM445 317h5v1h-5zM467 317h1v1h-1zM480 317h1v1h-1zM485 317h1v1h-1zM488 317h1v1h-1zM498 317h1v1h-1zM402 318h1v1h-1zM410 318h1v1h-1zM416 318h1v1h-1zM444 318h1v1h-1zM450 318h2v1h-2zM467 318h1v1h-1zM481 318h1v1h-1zM483 318h2v1h-2zM488 318h1v1h-1zM498 318h1v1h-1zM403 319h1v1h-1zM409 319h1v1h-1zM417 319h1v1h-1zM443 319h1v1h-1zM452 319h2v1h-2zM466 319h1v1h-1zM482 319h1v1h-1zM489 319h2v1h-2zM498 319h1v1h-1zM404 320h2v1h-2zM408 320h2v1h-2zM418 320h1v1h-1zM442 320h1v1h-1zM454 320h3v1h-3zM466 320h1v1h-1zM490 320h1v1h-1zM498 320h1v1h-1zM406 321h2v1h-2zM418 321h1v1h-1zM441 321h1v1h-1zM457 321h8v1h-8zM466 321h1v1h-1zM491 321h1v1h-1zM499 321h1v1h-1zM419 322h1v1h-1zM439 322h2v1h-2zM464 322h3v1h-3zM491 322h1v1h-1zM499 322h1v1h-1zM419 323h1v1h-1zM437 323h2v1h-2zM491 323h1v1h-1zM500 323h1v1h-1zM98 324h2v1h-2zM419 324h1v1h-1zM436 324h1v1h-1zM491 324h1v1h-1zM500 324h1v1h-1zM98 325h2v1h-2zM420 325h1v1h-1zM435 325h1v1h-1zM491 325h1v1h-1zM501 325h1v1h-1zM420 326h1v1h-1zM435 326h1v1h-1zM491 326h1v1h-1zM501 326h1v1h-1zM108 327h2v1h-2zM421 327h1v1h-1zM434 327h1v1h-1zM491 327h1v1h-1zM502 327h1v1h-1zM108 328h2v1h-2zM421 328h1v1h-1zM433 328h1v1h-1zM491 328h1v1h-1zM502 328h1v1h-1zM108 329h2v1h-2zM422 329h1v1h-1zM433 329h1v1h-1zM492 329h1v1h-1zM502 329h1v1h-1zM423 330h1v1h-1zM432 330h1v1h-1zM492 330h1v1h-1zM503 330h1v1h-1zM423 331h1v1h-1zM432 331h1v1h-1zM492 331h1v1h-1zM503 331h1v1h-1zM423 332h1v1h-1zM432 332h1v1h-1zM492 332h1v1h-1zM503 332h1v1h-1zM424 333h1v1h-1zM432 333h1v1h-1zM493 333h1v1h-1zM503 333h1v1h-1zM424 334h1v1h-1zM432 334h1v1h-1zM493 334h1v1h-1zM503 334h1v1h-1zM424 335h1v1h-1zM432 335h1v1h-1zM493 335h1v1h-1zM503 335h1v1h-1zM425 336h1v1h-1zM432 336h1v1h-1zM494 336h1v1h-1zM503 336h1v1h-1zM426 337h2v1h-2zM432 337h1v1h-1zM495 337h1v1h-1zM503 337h1v1h-1zM116 338h2v1h-2zM428 338h3v1h-3zM433 338h1v1h-1zM496 338h1v1h-1zM503 338h1v1h-1zM116 339h1v1h-1zM431 339h2v1h-2zM497 339h1v1h-1zM503 339h1v1h-1zM125 340h2v1h-2zM497 340h1v1h-1zM503 340h1v1h-1zM130 341h1v1h-1zM497 341h1v1h-1zM503 341h1v1h-1zM130 342h1v1h-1zM498 342h1v1h-1zM503 342h1v1h-1zM498 343h1v1h-1zM502 343h1v1h-1zM141 344h1v1h-1zM498 344h1v1h-1zM502 344h1v1h-1zM141 345h1v1h-1zM498 345h1v1h-1zM501 345h1v1h-1zM491 346h4v1h-4zM497 346h1v1h-1zM499 346h2v1h-2zM490 347h9v1h-9zM495 348h2v1h-2zM148 351h1v1h-1zM148 352h2v1h-2zM154 352h2v1h-2zM148 353h1v1h-1zM154 353h2v1h-2zM166 355h1v1h-1zM166 356h1v1h-1zM174 360h3v1h-3zM173 361h5v1h-5zM173 362h1v1h-1zM175 362h1v1h-1zM177 362h1v1h-1zM172 363h1v1h-1zM176 363h1v1h-1zM181 363h2v1h-2zM171 364h1v1h-1zM181 364h1v1h-1zM183 364h1v1h-1zM181 365h1v1h-1zM183 365h1v1h-1zM182 366h2v1h-2zM185 366h3v1h-3zM186 367h4v1h-4zM187 368h3v1h-3zM187 369h1v1h-1zM189 369h2v1h-2zM188 370h4v1h-4zM190 371h1v1h-1zM192 371h2v1h-2zM191 372h1v1h-1zM194 372h1v1h-1zM191 373h1v1h-1zM194 373h1v1h-1zM190 374h1v1h-1zM195 374h1v1h-1zM190 375h1v1h-1zM195 375h1v1h-1zM190 376h1v1h-1zM195 376h1v1h-1zM190 377h1v1h-1zM195 377h1v1h-1zM190 378h1v1h-1zM194 378h1v1h-1zM190 379h1v1h-1zM193 379h1v1h-1zM191 380h2v1h-2zM554 382h1v1h-1zM556 382h8v1h-8zM554 383h1v1h-1zM556 383h1v1h-1zM564 383h1v1h-1zM552 384h2v1h-2zM555 384h1v1h-1zM564 384h1v1h-1zM553 385h1v1h-1zM555 385h9v1h-9zM556 386h7v1h-7z"/></g>
<g fill="none" stroke="#000" stroke-width="1" shape-rendering="crispEdges">
<rect x="40.5" y="23.5" width="544" height="416"/>
<path d="M30 26.5H40M30 84.5H40M30 142.5H40M30 200.5H40M30 258.5H40M30 315.5H40M30 373.5H40M30 431.5H40"/>
<path d="M91.5 440V450M174.5 440V450M256.5 440V450M338.5 440V450M421.5 440V450M503.5 440V450"/>
</g>
<g class="ax" text-anchor="middle">
<text x="91.5" y="475">180°</text>
<text x="174.5" y="475">160°W</text>
<text x="256.5" y="475">140°W</text>
<text x="338.5" y="475">120°W</text>
<text x="421.5" y="475">100°W</text>
<text x="504.7" y="475">80°W</text>
<text class="rl" transform="translate(18 25.3) rotate(-90)">80°N</text>
<text class="rl" transform="translate(18 83.3) rotate(-90)">70°N</text>
<text class="rl" transform="translate(18 141.3) rotate(-90)">60°N</text>
<text class="rl" transform="translate(18 199.3) rotate(-90)">50°N</text>
<text class="rl" transform="translate(18 257.3) rotate(-90)">40°N</text>
<text class="rl" transform="translate(18 314.3) rotate(-90)">30°N</text>
<text class="rl" transform="translate(18 372.3) rotate(-90)">20°N</text>
<text class="rl" transform="translate(18 430.3) rotate(-90)">10°N</text>
<text class="rl" transform="translate(667 153.5) rotate(-90)">300</text>
<text class="rl" transform="translate(667 209.5) rotate(-90)">200</text>
<text class="rl" transform="translate(667 265.5) rotate(-90)">100</text>
<text class="rl" transform="translate(667 321.5) rotate(-90)">0</text>
</g>
<g shape-rendering="crispEdges">
<rect x="610" y="103" width="21" height="128" fill="#FFF50A"/>
<rect x="610" y="231" width="21" height="129" fill="#0000B3"/>
<rect x="609.5" y="102.5" width="22" height="258" fill="none" stroke="#000"/>
<path d="M632 153.5H642M632 209.5H642M632 265.5H642M632 321.5H642" stroke="#000"/>
</g>
</svg>
</body></html>
